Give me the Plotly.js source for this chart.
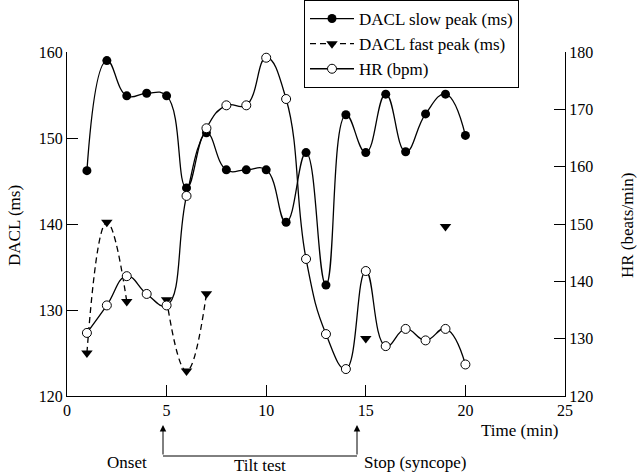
<!DOCTYPE html>
<html>
<head>
<meta charset="utf-8">
<script src="https://cdn.plot.ly/plotly-3.0.1.min.js"></script>
<style>html,body{margin:0;padding:0;background:#fff;}#chart{width:640px;height:476px;}</style>
</head>
<body>
<div id="chart"></div>
<script>
// Time (min)
var time = [1,2,3,4,5,6,7,8,9,10,11,12,13,14,15,16,17,18,19,20];
// DACL slow peak (ms)
var slowPeak = [146.2,159.0,154.9,155.2,154.9,144.2,150.6,146.3,146.3,146.3,140.2,148.3,132.9,152.7,148.3,155.1,148.4,152.8,155.1,150.3];
// DACL fast peak (ms) — gaps where not measured
var fastPeak = [125.0,140.2,131.0,null,131.2,122.9,131.9,null,null,null,null,null,null,null,126.7,null,null,null,139.7,null];
// HR (bpm)
var heartRate = [131.0,135.8,140.9,137.8,135.8,154.9,166.7,170.7,170.7,179.0,171.8,143.9,130.8,124.7,141.8,128.7,131.7,129.7,131.7,125.5];

var xTicks = [0,5,10,15,20,25];
var yTicks = [120,130,140,150,160];
var y2Ticks = [120,130,140,150,160,170,180];

var FONT = "Liberation Serif, Times New Roman, serif";

// paper box: x 67..565 px, y 0..396 px; plot y-domain occupies 52..396 px
var PH = 396;
var yDomain = [0, (396 - 52) / PH];

var traces = [
  {x: time, y: slowPeak, name: "DACL slow peak (ms)", mode: "lines+markers",
   line: {color: "#000", width: 1.3, shape: "spline", smoothing: 1.3},
   marker: {symbol: "circle", size: 9, color: "#000"}},
  {x: time, y: fastPeak, name: "DACL fast peak (ms)", mode: "lines+markers",
   connectgaps: false,
   line: {color: "#000", width: 1.3, dash: "6px,4px", shape: "spline", smoothing: 1.3},
   marker: {symbol: "triangle-down", size: 10, color: "#000"}},
  {x: time, y: heartRate, name: "HR (bpm)", mode: "lines+markers", yaxis: "y2",
   line: {color: "#000", width: 1.3, shape: "spline", smoothing: 1.3},
   marker: {symbol: "circle", size: 9, color: "#fff", line: {color: "#000", width: 1}}}
];

var axisCommon = {
  showgrid: false, zeroline: false, showline: true, linecolor: "#000", linewidth: 1,
  ticks: "inside", ticklen: 11, tickcolor: "#000", tickwidth: 1,
  tickfont: {family: FONT, size: 16, color: "#000"}
};

function px2x(px) { return (px - 67) / 498; }
function py2y(py) { return (PH - py) / PH; }

function txt(px, py, s, extra) {
  return Object.assign({xref: "paper", yref: "paper", x: px2x(px), y: py2y(py),
    xanchor: "center", yanchor: "middle", text: s, showarrow: false,
    font: {family: FONT, size: 17, color: "#000"}}, extra || {});
}

var layout = {
  width: 640, height: 476,
  margin: {l: 67, r: 75, t: 0, b: 80},
  paper_bgcolor: "#fff", plot_bgcolor: "#fff",
  font: {family: FONT, size: 16, color: "#000"},
  showlegend: true,
  legend: {x: px2x(304), y: 1, xanchor: "left", yanchor: "top",
    bordercolor: "#000", borderwidth: 1, bgcolor: "#fff", itemwidth: 44,
    font: {family: FONT, size: 17, color: "#000"}},
  xaxis: Object.assign({}, axisCommon, {range: [0, 25], tickvals: xTicks}),
  yaxis: Object.assign({}, axisCommon, {range: [120, 160], tickvals: yTicks, domain: yDomain}),
  yaxis2: Object.assign({}, axisCommon, {range: [120, 180], tickvals: y2Ticks,
    overlaying: "y", side: "right", domain: yDomain}),
  shapes: [
    {type: "line", xref: "paper", yref: "paper", x0: px2x(163), x1: px2x(357), y0: py2y(456), y1: py2y(456),
     line: {color: "#000", width: 1}}
  ],
  annotations: [
    {xref: "paper", yref: "paper", x: px2x(163), y: py2y(425), ax: 0, ay: 31, text: "",
     showarrow: true, arrowhead: 2, arrowsize: 1.3, arrowwidth: 1, arrowcolor: "#000"},
    {xref: "paper", yref: "paper", x: px2x(357), y: py2y(425), ax: 0, ay: 31, text: "",
     showarrow: true, arrowhead: 2, arrowsize: 1.3, arrowwidth: 1, arrowcolor: "#000"},
    txt(127, 463, "Onset"),
    txt(260, 466, "Tilt test"),
    txt(415, 463, "Stop (syncope)"),
    txt(519, 430, "Time (min)"),
    txt(14, 226, "DACL (ms)", {textangle: -90}),
    txt(627, 226, "HR (beats/min)", {textangle: -90})
  ]
};

Plotly.newPlot("chart", traces, layout, {displayModeBar: false, staticPlot: true});
</script>
</body>
</html>
